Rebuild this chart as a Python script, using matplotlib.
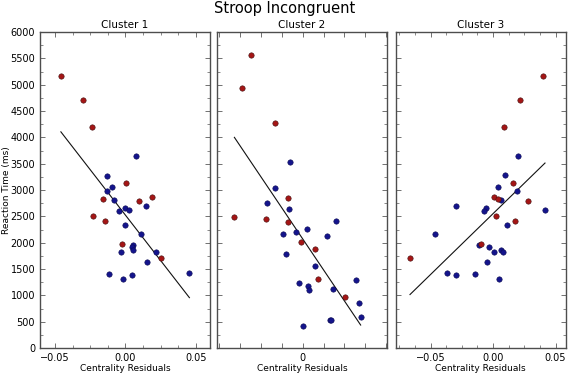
'''Stroop incongruent: reaction time vs centrality residuals per cluster
'''
import numpy as np
import matplotlib
matplotlib.use('Agg')
import matplotlib.pyplot as plt
from matplotlib.ticker import MultipleLocator, FuncFormatter

red_c = '#a51515'
blue_c = '#14148c'

titles = ['Cluster 1', 'Cluster 2', 'Cluster 3']

# cluster 1
c1_x = [-0.0458, -0.0298, -0.0235, 0.0073, -0.0134, -0.0096, 0.0002, -0.0132,
        -0.0157, -0.0082, 0.0188, 0.0099, 0.0148, -0.0007, 0.0026, -0.0047,
        -0.0228, -0.0146, -0.0002, 0.0108, -0.0023, 0.0052, 0.0047, 0.0056,
        -0.0033, 0.0216, 0.0249, 0.0155, 0.0453, -0.0118, 0.0044, -0.0016]
c1_y = [5166, 4700, 4194, 3644, 3271, 3057, 3127, 2981,
        2829, 2810, 2867, 2791, 2697, 2659, 2621, 2596,
        2501, 2412, 2342, 2172, 1982, 1963, 1920, 1863,
        1831, 1831, 1711, 1641, 1427, 1402, 1395, 1307]
c1_red = [1, 1, 1, 0, 0, 0, 1, 0,
          1, 0, 1, 1, 0, 0, 0, 0,
          1, 1, 0, 0, 1, 0, 0, 0,
          0, 0, 1, 0, 0, 0, 0, 0]

# cluster 2
c2_x = [-0.0248, -0.0293, -0.0133, -0.0059, -0.0131, -0.0072, -0.0173, -0.0065,
        -0.0328, -0.0178, -0.0069, 0.0158, -0.0033, 0.0020, -0.0093, 0.0115,
        -0.0010, 0.0058, -0.0082, 0.0061, 0.0074, 0.0258, -0.0018, 0.0027,
        0.0029, 0.0147, 0.0202, 0.0269, 0.0278, 0.0130, 0.0136, 0.0001]
c2_y = [5564, 4933, 4264, 3525, 3032, 2843, 2748, 2634,
        2494, 2445, 2393, 2418, 2210, 2261, 2166, 2122,
        2009, 1888, 1793, 1560, 1313, 1289, 1237, 1168,
        1105, 1111, 959, 853, 580, 536, 530, 409]
c2_red = [1, 1, 1, 0, 0, 1, 0, 0,
          1, 1, 1, 0, 0, 0, 0, 0,
          1, 1, 0, 0, 1, 0, 0, 0,
          0, 0, 1, 0, 0, 0, 0, 0]

# cluster 3
c3_x = [0.0403, 0.0216, 0.0091, 0.0203, 0.0099, 0.0163, 0.0037, 0.0192,
        0.0008, 0.0043, 0.0064, 0.0277, -0.0296, -0.0056, -0.0069, 0.0416,
        0.0021, 0.0179, 0.0109, -0.0461, -0.0096, -0.0112, -0.0032, 0.0061,
        0.0080, 0.0011, -0.0664, -0.0051, -0.0371, -0.0144, -0.0299, 0.0051]
c3_y = [5166, 4700, 4199, 3644, 3278, 3132, 3063, 2975,
        2873, 2829, 2810, 2791, 2703, 2659, 2596, 2627,
        2501, 2418, 2342, 2172, 1982, 1963, 1925, 1868,
        1831, 1831, 1717, 1641, 1427, 1408, 1395, 1307]
c3_red = [1, 1, 1, 0, 0, 1, 0, 0,
          1, 1, 0, 1, 0, 0, 0, 0,
          1, 1, 0, 0, 1, 0, 0, 0,
          0, 0, 1, 0, 0, 0, 0, 0]

clusters = [(c1_x, c1_y, c1_red), (c2_x, c2_y, c2_red), (c3_x, c3_y, c3_red)]
xlims = [(-0.0606, 0.0599), (-0.041, 0.0403), (-0.0776, 0.058)]


def fmt_resid(v, pos):
    if abs(v) < 1e-9:
        return '0.00'
    return ('%.2f' % v).replace('-', '\u2212')


W, H = 569, 373
fig = plt.figure(figsize=(W / 100.0, H / 100.0), dpi=100)
lefts = [40, 217.3, 396]
widths = [170, 169.4, 169.5]
top, bottom = 32, 348

for i, (xs, ys, reds) in enumerate(clusters):
    ax = fig.add_axes([lefts[i] / W, (H - bottom) / H, widths[i] / W, (bottom - top) / H])
    xs = np.array(xs)
    ys = np.array(ys)
    reds = np.array(reds, dtype=bool)
    # regression line over the data range
    k, b = np.polyfit(xs, ys, 1)
    lx = np.array([xs.min(), xs.max()])
    ax.plot(lx, k * lx + b, color='#111111', linewidth=0.8, zorder=1)
    ax.scatter(xs[~reds], ys[~reds], s=15, color=blue_c, edgecolors='#0a0a50',
               linewidths=0.4, zorder=2)
    ax.scatter(xs[reds], ys[reds], s=15, color=red_c, edgecolors='#401010',
               linewidths=0.4, zorder=3)
    ax.set_xlim(*xlims[i])
    ax.set_ylim(0, 6000)
    ax.yaxis.set_major_locator(MultipleLocator(500))
    ax.yaxis.set_minor_locator(MultipleLocator(250))
    if i == 1:
        ax.xaxis.set_major_locator(MultipleLocator(0.01))
        ax.xaxis.set_major_formatter(FuncFormatter(lambda v, p: '0' if abs(v) < 1e-9 else ''))
    else:
        ax.xaxis.set_major_locator(MultipleLocator(0.05))
        ax.xaxis.set_minor_locator(MultipleLocator(0.0125))
        ax.xaxis.set_major_formatter(FuncFormatter(fmt_resid))
    ax.tick_params(which='both', direction='in', top=True, right=True,
                   labelsize=7, color='0.35')
    ax.tick_params(which='major', length=3.5, width=0.6)
    ax.tick_params(which='minor', length=2, width=0.5)
    if i > 0:
        ax.set_yticklabels([])
    else:
        ax.set_ylabel('Reaction Time (ms)', fontsize=6.5)
        ax.yaxis.set_label_coords(-29.0 / widths[0], 0.5)
    for sp in ax.spines.values():
        sp.set_color('0.3')
        sp.set_linewidth(1.0)
    ax.set_xlabel('Centrality Residuals', fontsize=6.5, labelpad=1)
    ax.set_title(titles[i], fontsize=7.5, pad=3)

fig.suptitle('Stroop Incongruent', fontsize=10.5, y=0.998)
fig.savefig('out.png', dpi=100)
